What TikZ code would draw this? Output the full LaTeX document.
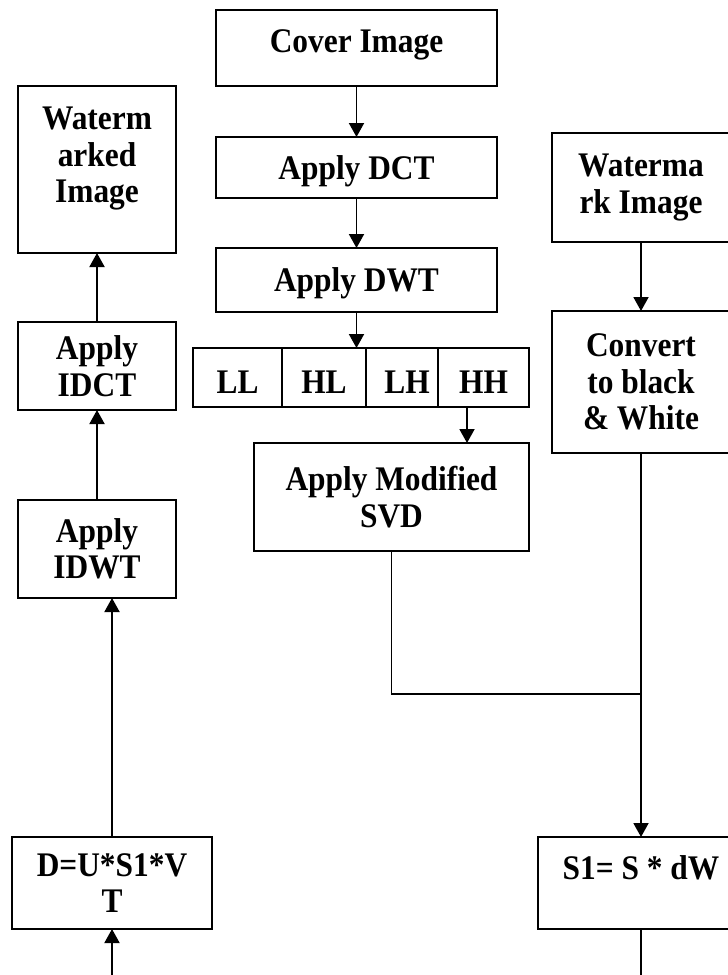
\documentclass[tikz,border=0pt]{standalone}
\usepackage{fontspec}
\setmainfont{Liberation Serif}[FakeStretch=0.91]
\usetikzlibrary{arrows.meta,positioning}
\tikzset{
  flow-box/.style={draw=black, fill=white, line width=1.9pt, inner sep=0pt, outer sep=0pt,
    align=center, font=\fontsize{34.5}{36.5}\selectfont\bfseries},
  band-cell/.style={flow-box, minimum height=59pt, text height=32pt, text depth=0pt},
  flow-link/.style={line width=1.9pt},
  flow-arrow/.style={flow-link, -{Triangle[length=14pt, width=15pt]}}
}

\begin{document}
\begin{tikzpicture}[x=1pt, y=-1pt]
  \useasboundingbox (0,0) rectangle (728,975);

  % --- Cover image chain ---
  \node[flow-box, minimum width=281pt, minimum height=76pt, text depth=14pt] (cover) at (356.5,48) {Cover Image};
  \node[flow-box, minimum width=281pt, minimum height=61pt, text depth=0pt] (dct) at (356.5,167.5) {Apply DCT};
  \node[flow-box, minimum width=281pt, minimum height=64pt, text depth=0pt] (dwt) at (356.5,280) {Apply DWT};
  \draw[flow-arrow] (cover.south) -- (dct.north);
  \draw[flow-arrow] (dct.south) -- (dwt.north);

  % Sub-bands
  \node[band-cell, minimum width=89pt] (ll) at (237.5,377.5) {LL};
  \node[band-cell, minimum width=84pt, right=0pt of ll] (hl) {HL};
  \node[band-cell, minimum width=72pt, right=0pt of hl] (lh) {\hspace*{10pt}LH};
  \node[band-cell, minimum width=91pt, right=0pt of lh] (hh) {HH};
  \draw[flow-arrow] (dwt.south) -- (dwt.south |- hl.north);

  \node[flow-box, minimum width=275pt, minimum height=108pt] (svd) at (391.5,497) {Apply Modified\\SVD};
  \coordinate (hhout) at ([xshift=-16.5pt]hh.south);
  \draw[flow-arrow] (hhout) -- (hhout |- svd.north);

  % --- Watermark chain ---
  \node[flow-box, minimum width=178pt, minimum height=109pt] (wmk) at (641,187.5) {Waterma\\rk Image};
  \node[flow-box, minimum width=178pt, minimum height=142pt] (conv) at (641,382) {Convert\\to black\\\& White};
  \draw[flow-arrow] (wmk.south) -- (conv.north);

  % Merge into S1
  \node[flow-box, minimum width=206pt, minimum height=92pt, text depth=30pt] (s1) at (641,883) {S1= S * dW};
  \coordinate (join) at (641,694);
  \coordinate (s1out) at (641,975);
  \draw[flow-link] (svd.south) |- (join);
  \draw[flow-link] (conv.south) -- (join);
  \draw[flow-arrow] (join) -- (s1.north);
  \draw[flow-link] (s1.south) -- (s1out);

  % --- Inverse chain ---
  \node[flow-box, minimum width=200pt, minimum height=92pt] (rec) at (112,883) {D=U*S1*V\\T};
  \node[flow-box, minimum width=158pt, minimum height=98pt] (idwt) at (97,549) {Apply\\IDWT};
  \node[flow-box, minimum width=158pt, minimum height=88pt] (idct) at (97,366) {Apply\\IDCT};
  \node[flow-box, minimum width=158pt, minimum height=167pt] (wmd) at (97,169.5) {Waterm\\arked\\Image\\[-7pt]\mbox{}};
  \coordinate (recin) at (112,975);
  \draw[flow-arrow] (recin) -- (rec.south);
  \draw[flow-arrow] (rec.north) -- (rec.north |- idwt.south);
  \draw[flow-arrow] (idwt.north) -- (idct.south);
  \draw[flow-arrow] (idct.north) -- (wmd.south);
\end{tikzpicture}
\end{document}
